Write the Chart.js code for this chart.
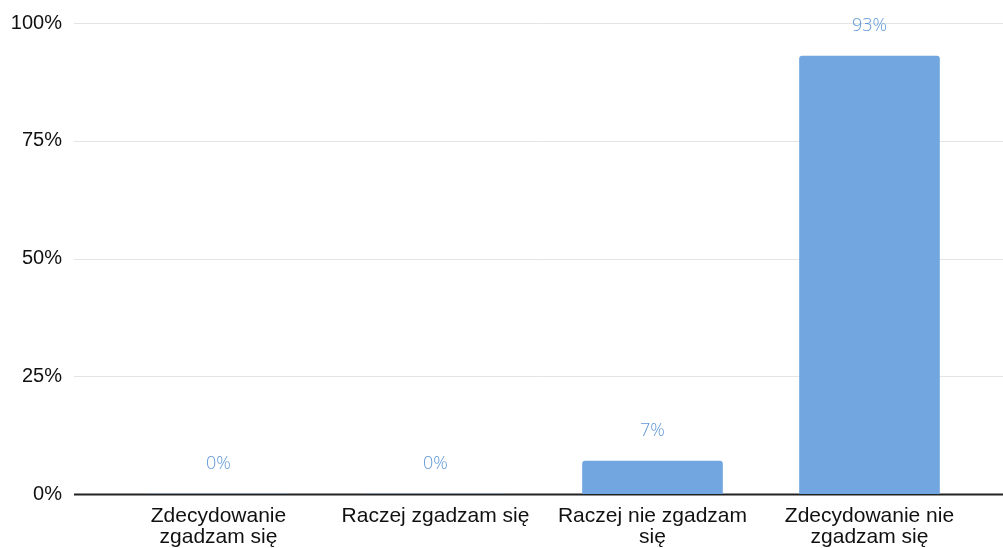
<!DOCTYPE html>
<html>
<head>
<meta charset="utf-8">
<script src="https://cdn.jsdelivr.net/npm/chart.js@4"></script>
<style>
  html, body { margin: 0; padding: 0; background: #fff; overflow: hidden; }
  canvas { display: block; }
</style>
</head>
<body>
<canvas id="answersChart" width="1003" height="548"></canvas>
<script>
const categories = [
  ["Zdecydowanie", "zgadzam się"],
  "Raczej zgadzam się",
  ["Raczej nie zgadzam", "się"],
  ["Zdecydowanie nie", "zgadzam się"]
];
const percentValues = [0, 0, 7, 93];
const yTicks = [0, 25, 50, 75, 100];

const BAR_COLOR = "#72a6e0";
const LABEL_COLOR = "#5f97d6";

// grid lines run wider than the bar area, like in the original
const wideGrid = {
  id: "wideGrid",
  beforeDatasetsDraw(chart) {
    const { ctx, scales } = chart;
    const y = scales.y;
    const left = 74;
    const right = chart.width;
    ctx.save();
    yTicks.forEach((t) => {
      const py = Math.round(y.getPixelForValue(t)) + 0.5;
      ctx.beginPath();
      if (t === 0) {
        ctx.strokeStyle = "#222";
        ctx.lineWidth = 2;
      } else {
        ctx.strokeStyle = "#e4e4e4";
        ctx.lineWidth = 1;
      }
      ctx.moveTo(left, py);
      ctx.lineTo(right, py);
      ctx.stroke();
    });
    ctx.restore();
  }
};

const valueLabels = {
  id: "valueLabels",
  afterDatasetsDraw(chart) {
    const { ctx } = chart;
    const meta = chart.getDatasetMeta(0);
    ctx.save();
    ctx.font = "300 18px 'Open Sans', sans-serif";
    ctx.fillStyle = LABEL_COLOR;
    ctx.textAlign = "center";
    ctx.textBaseline = "middle";
    meta.data.forEach((bar, i) => {
      ctx.fillText(percentValues[i] + "%", bar.x, bar.y - 30);
    });
    ctx.restore();
  }
};

new Chart(document.getElementById("answersChart"), {
  type: "bar",
  data: {
    labels: categories,
    datasets: [
      {
        data: percentValues,
        backgroundColor: BAR_COLOR,
        borderRadius: { topLeft: 3, topRight: 3 },
        borderSkipped: "bottom",
        barThickness: 140
      }
    ]
  },
  options: {
    responsive: false,
    animation: false,
    layout: { padding: { top: 23, right: 25, left: 0, bottom: 0 } },
    plugins: {
      legend: { display: false },
      tooltip: { enabled: false }
    },
    scales: {
      x: {
        grid: { display: false, drawTicks: false },
        border: { display: false },
        ticks: {
          color: "#111",
          font: { family: "'Liberation Sans', Arial, sans-serif", size: 21, lineHeight: 1.0 },
          padding: 12,
          maxRotation: 0,
          autoSkip: false
        },
        afterFit(scale) {
          scale.height = 54;
        }
      },
      y: {
        min: 0,
        max: 100,
        grid: { display: false, drawTicks: false },
        border: { display: false },
        ticks: {
          stepSize: 25,
          color: "#111",
          font: { family: "'Liberation Sans', Arial, sans-serif", size: 20 },
          padding: 48,
          callback: (v) => v + "%"
        },
        afterFit(scale) {
          // big label gap should not eat vertical room
          scale.width = 110;
          scale.paddingTop = 0;
          scale.paddingBottom = 0;
        }
      }
    }
  },
  plugins: [wideGrid, valueLabels]
});
</script>
</body>
</html>
